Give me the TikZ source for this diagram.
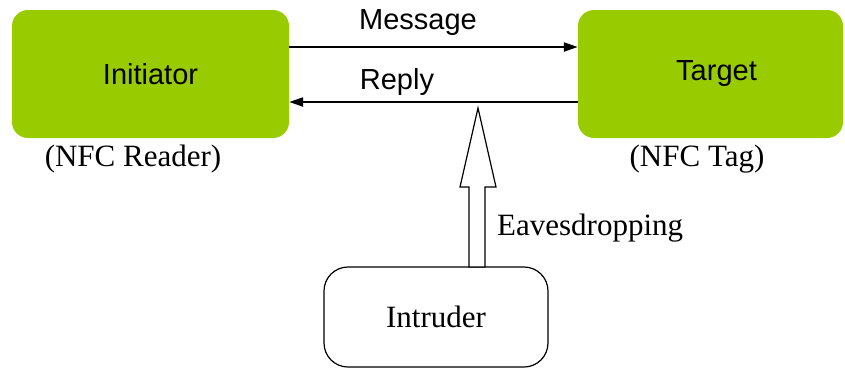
\documentclass[tikz,border=0pt]{standalone}
\usepackage{fontspec}
\setmainfont{Liberation Serif}
\newfontfamily\arialf{Liberation Sans}
\usetikzlibrary{arrows.meta}
\definecolor{nfcgreen}{RGB}{153,204,0}
\begin{document}
\begin{tikzpicture}[x=1pt,y=-1pt,
  greenbox/.style={fill=nfcgreen, rounded corners=16pt, minimum height=128pt, inner sep=0pt, font=\arialf\fontsize{29}{34}\selectfont},
  serifl/.style={font=\fontsize{31}{36}\selectfont, inner sep=0pt},
  sansl/.style={font=\arialf\fontsize{29}{34}\selectfont, inner sep=0pt},
  msg/.style={line width=2.2pt, -{Triangle[length=14pt,width=9pt]}},
  intrbox/.style={draw, line width=1.2pt, rounded corners=24pt, minimum width=224pt, minimum height=100pt, inner sep=0pt, font=\fontsize{31}{36}\selectfont}]
\useasboundingbox (0,0) rectangle (845,368);
\node[greenbox, minimum width=277pt] (ini) at (150.5,74) {Initiator};
\node[greenbox, minimum width=265pt] (tgt) at (710.5,74) {\hspace*{12pt}Target};
\node[serifl] (rdr) at (133,159) {(NFC Reader)};
\node[serifl] (tag) at (697,159) {(NFC Tag)};
\node[intrbox] (intr) at (436,317) {Intruder};
\draw[msg] ([yshift=27pt]ini.east) -- ([yshift=27pt]tgt.west);
\draw[msg] ([yshift=-28pt]tgt.west) -- ([yshift=-28pt]ini.east);
\node[sansl] (lmsg) at (418,23) {Message};
\node[sansl] (lrep) at (397,82) {Reply};
\coordinate (tip) at (478,108);
\draw[line width=1.2pt, fill=white, line join=miter]
  (469,267) -- (469,187) -- (460,187) -- (tip) -- (496,187) -- (485,187) -- (485,267) -- cycle;
\node[serifl, anchor=west] (eav) at (497,228) {Eavesdropping};
\end{tikzpicture}
\end{document}
